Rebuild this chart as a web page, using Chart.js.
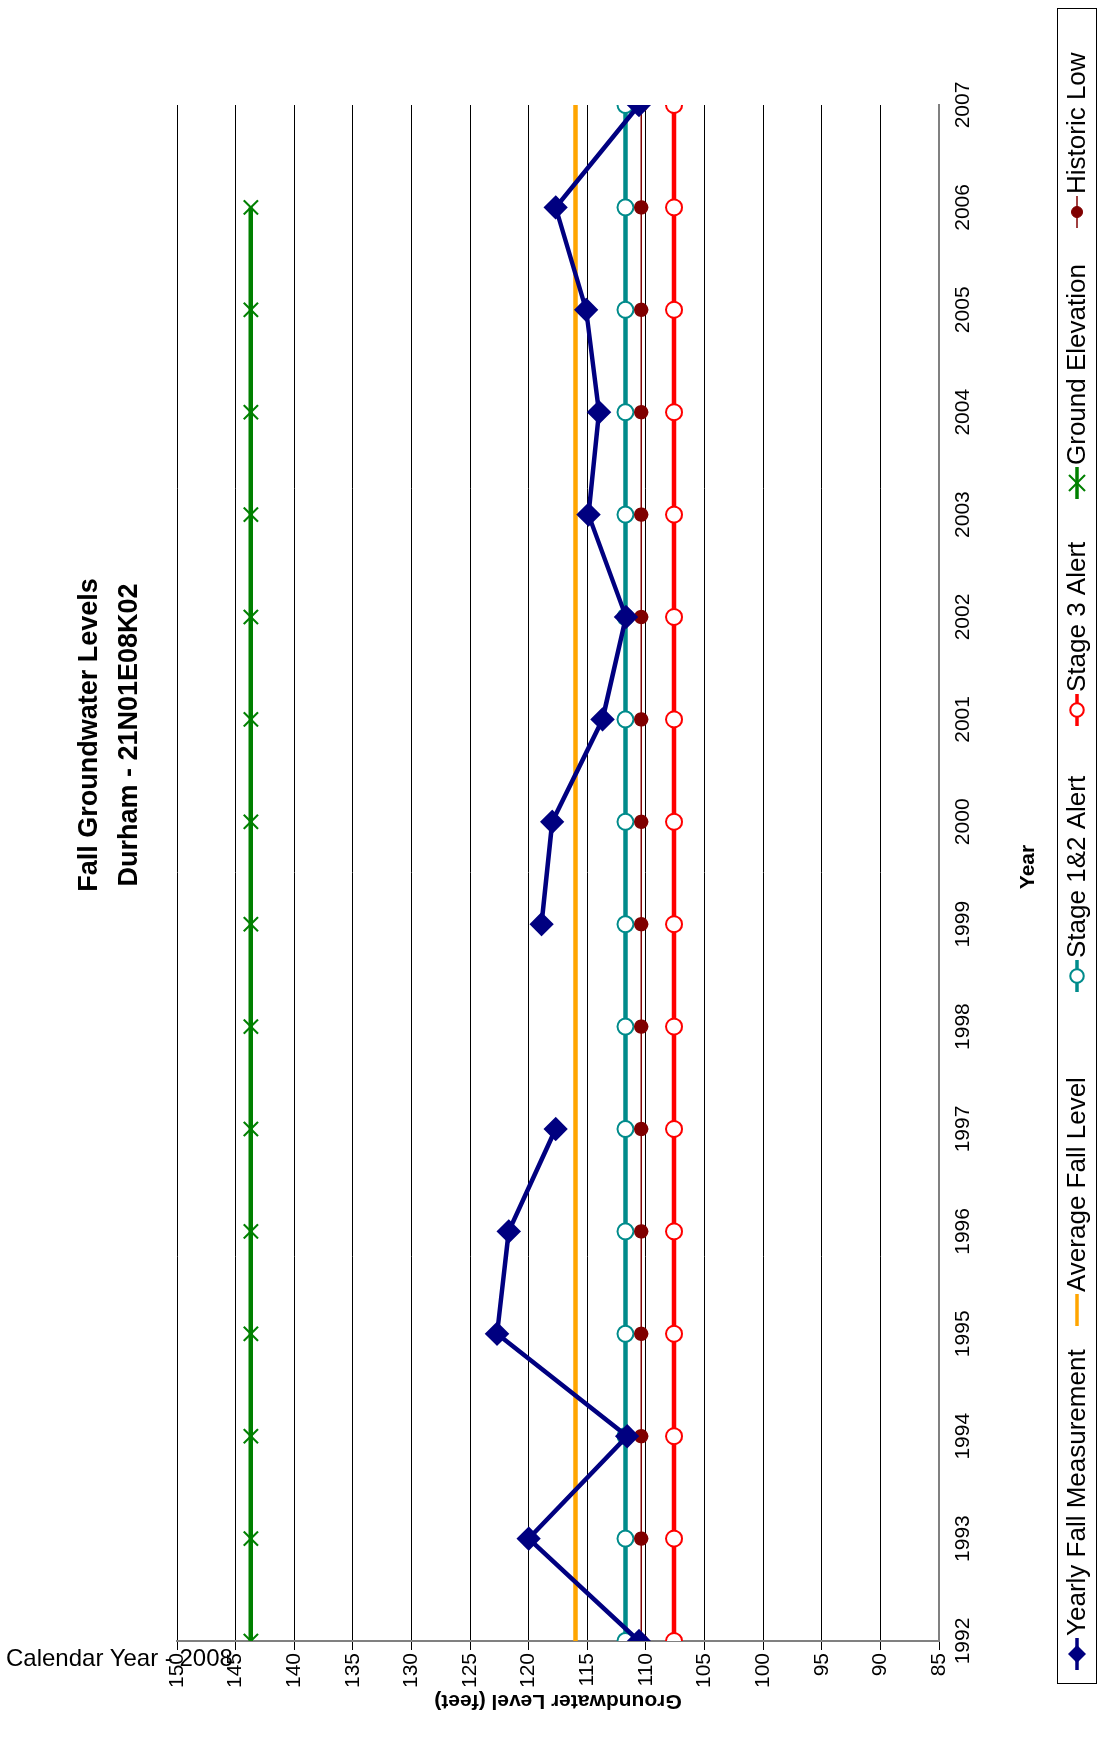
<!DOCTYPE html>
<html style="overflow:hidden;width:1105px;height:1744px"><head><meta charset="utf-8">
<script src="https://cdn.jsdelivr.net/npm/chart.js@4"></script>
<style>
body{margin:0;width:1105px;height:1744px;overflow:hidden;background:#fff;font-family:Arial,"Liberation Sans",sans-serif}
#wrap{position:relative;width:1105px;height:1744px;overflow:hidden}
#rot{position:absolute;left:0;top:0;width:1744px;height:1105px;transform-origin:0 0;transform:translateY(1744px) rotate(-90deg)}
#c{position:absolute;left:0;top:0}
#title{position:absolute;left:709px;width:600px;top:68px;text-align:center;font-weight:bold;font-size:27px;line-height:40px}
#lbox{position:absolute;left:60px;top:1057px;width:1674px;height:38px;border:1.5px solid #000}
#cal{position:absolute;left:6px;top:1644px;font-size:24px}
</style></head><body>
<div id="wrap">
<div id="rot">
<canvas id="c" width="1744" height="1105"></canvas>
<div id="title">Fall Groundwater Levels<br>Durham - 21N01E08K02</div>
<div id="lbox"></div>
</div>
<div id="cal">Calendar Year - 2008</div>
</div>
<script>
const years=[1992,1993,1994,1995,1996,1997,1998,1999,2000,2001,2002,2003,2004,2005,2006,2007];
const yearly=[110.6,120,111.6,122.7,121.7,117.7,null,118.9,118,113.7,111.7,114.9,114,115.1,117.7,110.6];
const averageFall=116;
const stage12=111.75;
const stage3=107.6;
const groundElev=143.7;
const groundYears=[1992,1993,1994,1995,1996,1997,1998,1999,2000,2001,2002,2003,2004,2005,2006];
const historicLow=110.4;
const yTicks=[150,145,140,135,130,125,120,115,110,105,100,95,90,85];

const pts=(ys,v)=>ys.map(y=>({x:y,y:v}));
const ds=[
 {label:'Yearly Fall Measurement',data:years.map((y,i)=>({x:y,y:yearly[i]})),borderColor:'#000080',backgroundColor:'#000080',borderWidth:4.5,pointStyle:'rectRot',pointRadius:9,spanGaps:false,order:0},
 {label:'Average Fall Level',data:pts([1992,2007],averageFall),borderColor:'#FFA500',borderWidth:4.5,pointRadius:0,order:5},
 {label:'Stage 1&2 Alert',data:pts(years,stage12),borderColor:'#008B8B',backgroundColor:'#fff',borderWidth:4.5,pointStyle:'circle',pointRadius:8,pointBorderWidth:2,order:3},
 {label:'Stage 3 Alert',data:pts(years,stage3),borderColor:'#FF0000',backgroundColor:'#fff',borderWidth:4.5,pointStyle:'circle',pointRadius:8,pointBorderWidth:2,order:4},
 {label:'Ground Elevation',data:pts(groundYears,groundElev),borderColor:'#008000',borderWidth:4.5,pointStyle:'crossRot',pointRadius:10,pointBorderWidth:2,order:6},
 {label:'Historic Low',data:pts(years,historicLow),borderColor:'#800000',backgroundColor:'#800000',borderWidth:1.5,pointStyle:'circle',pointRadius:6.5,order:2}
];
const legendX=[90,434,768,1034,1261,1532];
const legendPlugin={id:'lg',afterDraw(ch){const c=ch.ctx;c.save();const yc=1077;
 ds.forEach((d,i)=>{const x=legendX[i];c.strokeStyle=d.borderColor;c.lineWidth=Math.min(d.borderWidth,3.5);
  c.beginPath();c.moveTo(x-16,yc);c.lineTo(x+16,yc);c.stroke();
  if(d.pointRadius){c.fillStyle=d.backgroundColor||'#fff';c.lineWidth=d.pointBorderWidth||1;c.beginPath();
   if(d.pointStyle==='rectRot'){c.moveTo(x,yc-9);c.lineTo(x+9,yc);c.lineTo(x,yc+9);c.lineTo(x-9,yc);c.closePath();c.fill();}
   else if(d.pointStyle==='circle'){c.arc(x,yc,d.pointRadius*0.85,0,7);c.fill();c.stroke();}
   else {c.moveTo(x-8,yc-8);c.lineTo(x+8,yc+8);c.moveTo(x+8,yc-8);c.lineTo(x-8,yc+8);c.stroke();}}
  c.fillStyle='#000';c.font='26px Arial, "Liberation Sans"';c.textBaseline='middle';c.fillText(d.label,x+18,yc+1);});
 c.font='bold 21px Arial, "Liberation Sans"';c.textAlign='center';c.fillText('Year',877,1028);
 c.translate(43,558);c.rotate(-Math.PI/2);c.fillText('Groundwater Level (feet)',0,0);
 c.restore();}};
new Chart(document.getElementById('c'),{type:'line',data:{datasets:ds},
 options:{responsive:false,animation:false,devicePixelRatio:1,layout:{padding:{top:177,right:105,left:0,bottom:0}},
 plugins:{legend:{display:false},tooltip:{enabled:false}},
 scales:{
  x:{type:'linear',min:1992,max:2007,afterFit(s){s.height=166;},
   ticks:{stepSize:1,autoSkip:false,maxRotation:0,color:'#000',font:{size:21,family:'Arial'},callback:v=>String(v)},
   grid:{display:false,drawTicks:true,tickLength:9,color:'#000'},border:{color:'#808080',width:2}},
  y:{min:85,max:150,afterFit(s){s.width=103;},afterBuildTicks(s){s.ticks=yTicks.map(v=>({value:v}));},
   ticks:{color:'#000',font:{size:21,family:'Arial'}},
   grid:{color:'#000',lineWidth:1,tickLength:9},border:{color:'#808080',width:2}}
 }},plugins:[legendPlugin]});
</script>
</body></html>
